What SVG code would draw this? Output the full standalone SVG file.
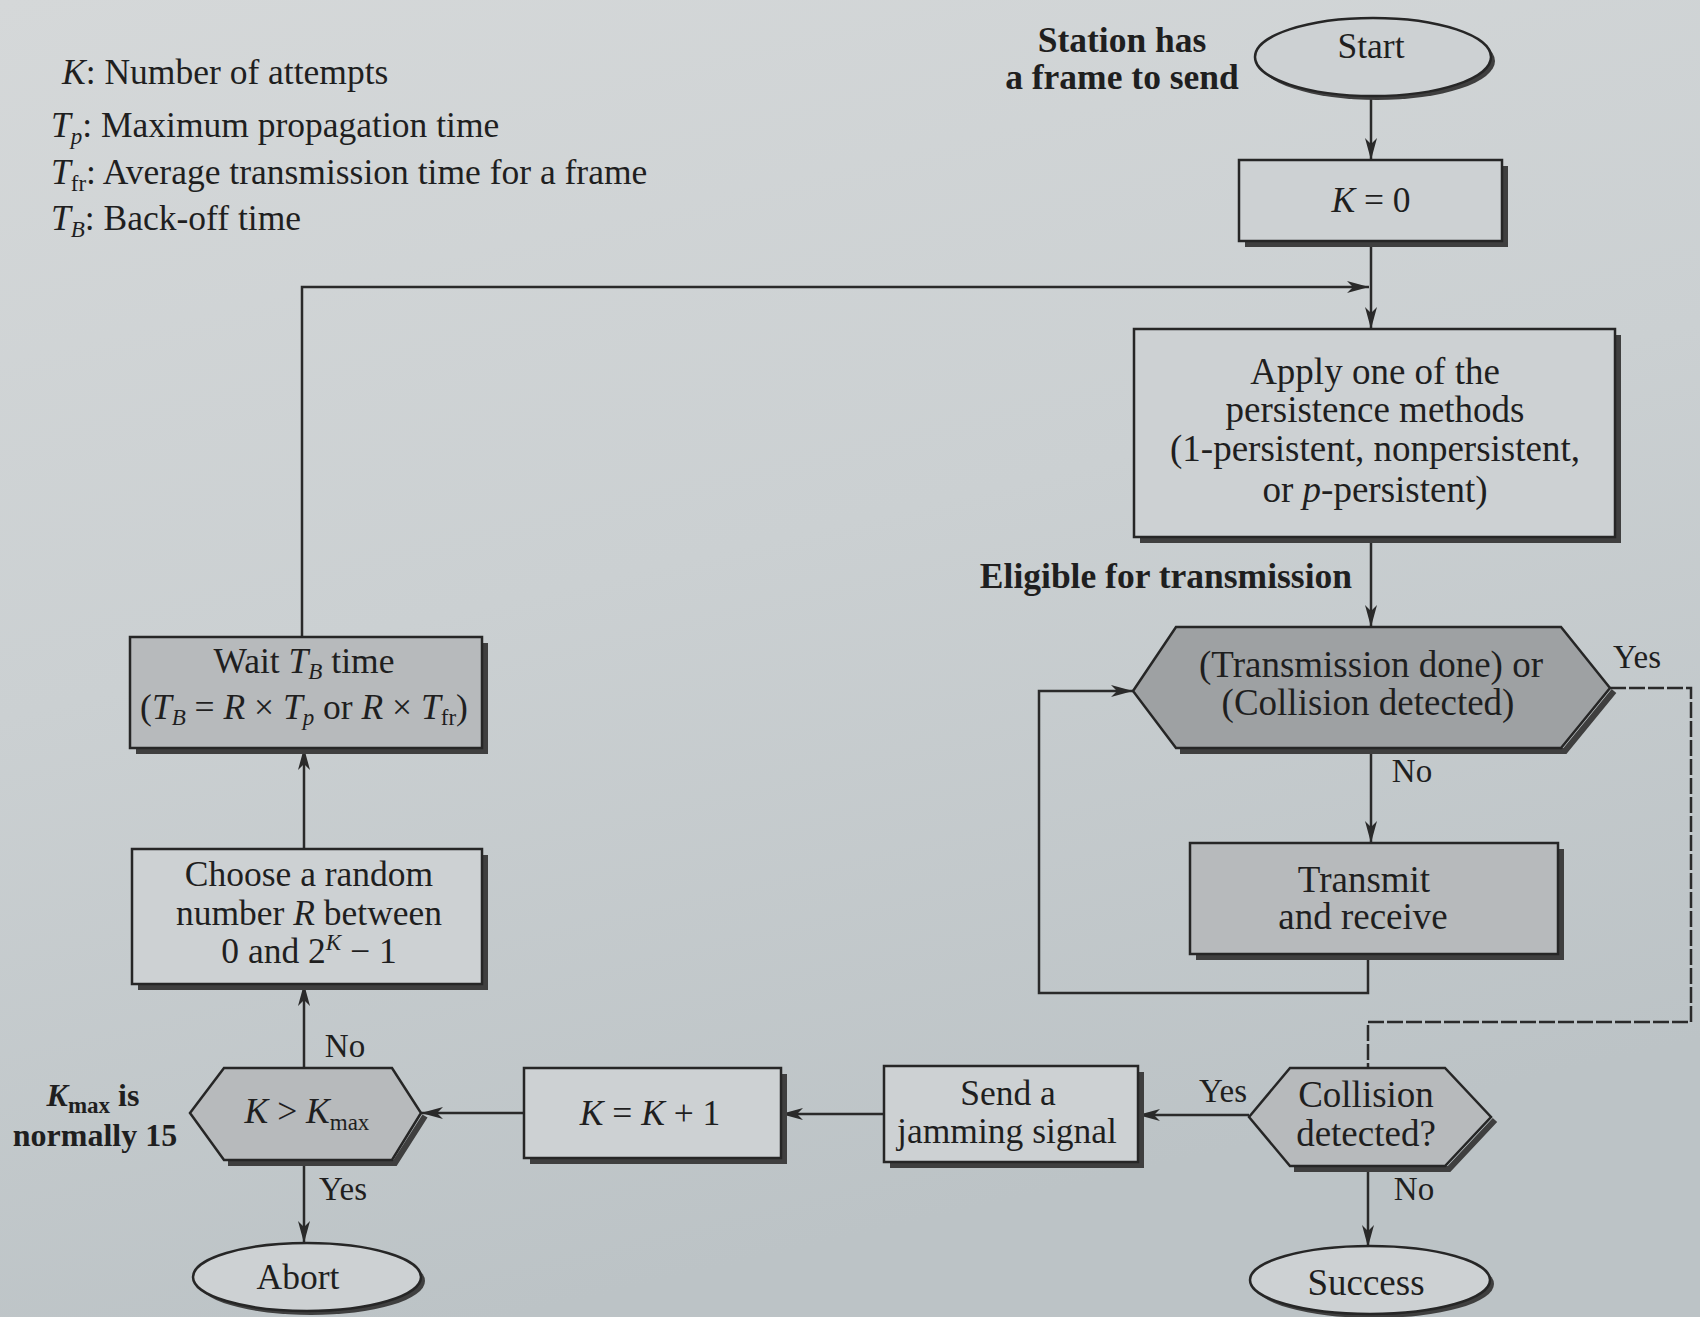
<svg xmlns="http://www.w3.org/2000/svg" width="1700" height="1317" viewBox="0 0 1700 1317">
<defs>
<linearGradient id="paper" x1="0" y1="0" x2="0.3" y2="1">
<stop offset="0" stop-color="#d5d8d9"/>
<stop offset="0.5" stop-color="#cbd0d2"/>
<stop offset="1" stop-color="#bcc3c6"/>
</linearGradient>
<marker id="arr" viewBox="0 0 22 12" refX="22" refY="6" markerWidth="22" markerHeight="12" markerUnits="userSpaceOnUse" orient="auto">
<path d="M0,0 L22,6 L0,12 L6,6 z" fill="#2a2a2a"/>
</marker>
</defs>
<style>
text{font-family:"Liberation Serif","Times New Roman",serif;font-size:35.5px;fill:#1f1f1f;text-anchor:middle}
.big{font-size:37px}
.lab{font-size:33px}
.note{font-size:32px}
.b{font-weight:bold}
.l{text-anchor:start}
.e{text-anchor:end}
.i{font-style:italic}
.sub{font-size:23px}
.box{fill:#cdd1d3;stroke:#262626;stroke-width:2.5}
.gray{fill:#b7babc;stroke:#262626;stroke-width:2.5}
.dark{fill:#9ea1a3;stroke:#262626;stroke-width:2.5}
.sh{fill:none;stroke:#3f3f3f;stroke-width:6}
.c{fill:none;stroke:#2a2a2a;stroke-width:2.5}
.dash{stroke-dasharray:16 3}
</style>
<rect width="1700" height="1317" fill="url(#paper)"/>

<g id="legend">
<text class="l" x="62" y="84"><tspan class="i">K</tspan>: Number of attempts</text>
<text class="l" x="51" y="137"><tspan class="i">T</tspan><tspan class="i sub" dy="7">p</tspan><tspan dy="-7">: Maximum propagation time</tspan></text>
<text class="l" x="51" y="184"><tspan class="i">T</tspan><tspan class="sub" dy="7">fr</tspan><tspan dy="-7">: Average transmission time for a frame</tspan></text>
<text class="l" x="51" y="230"><tspan class="i">T</tspan><tspan class="i sub" dy="7">B</tspan><tspan dy="-7">: Back-off time</tspan></text>
</g>

<g id="connectors">
<path class="c" d="M1371,98 V160" marker-end="url(#arr)"/>
<path class="c" d="M1371,241 V329" marker-end="url(#arr)"/>
<path class="c" d="M302,637 V287 H1369" marker-end="url(#arr)"/>
<path class="c" d="M1371,537 V627" marker-end="url(#arr)"/>
<path class="c" d="M1371,748 V843" marker-end="url(#arr)"/>
<path class="c" d="M1368,957 V993 H1039 V691 H1133" marker-end="url(#arr)"/>
<path class="c dash" d="M1610,688 H1691 V1022 H1368 V1068"/>
<path class="c" d="M1249,1115 H1138" marker-end="url(#arr)"/>
<path class="c" d="M884,1114 H781" marker-end="url(#arr)"/>
<path class="c" d="M524,1113 H421" marker-end="url(#arr)"/>
<path class="c" d="M304,1068 V984" marker-end="url(#arr)"/>
<path class="c" d="M304,849 V748" marker-end="url(#arr)"/>
<path class="c" d="M304,1163 V1243" marker-end="url(#arr)"/>
<path class="c" d="M1368,1169 V1247" marker-end="url(#arr)"/>
</g>

<g id="station-label">
<text class="b" x="1122" y="52">Station has</text>
<text class="b" x="1122" y="89">a frame to send</text>
</g>

<g id="start">
<ellipse cx="1377" cy="61" rx="118" ry="39" fill="#3f3f3f"/>
<ellipse class="box" cx="1373" cy="57" rx="118" ry="39"/>
<text x="1371" y="58">Start</text>
</g>

<g id="k0">
<path class="sh" d="M1505,166 V244 H1245"/>
<rect class="box" x="1239" y="160" width="263" height="81"/>
<text x="1371" y="212"><tspan class="i">K</tspan> = 0</text>
</g>

<g id="apply">
<path class="sh" d="M1618,335 V540 H1140"/>
<rect class="box" x="1134" y="329" width="481" height="208"/>
<text class="big" x="1375" y="384">Apply one of the</text>
<text class="big" x="1375" y="422">persistence methods</text>
<text class="big" x="1375" y="461">(1-persistent, nonpersistent,</text>
<text class="big" x="1375" y="502">or <tspan class="i">p</tspan>-persistent)</text>
</g>

<text id="eligible" class="b e" x="1352" y="588">Eligible for transmission</text>

<g id="check-done">
<path class="sh" d="M1614,691 L1565,751 H1180"/>
<polygon class="dark" points="1133,691 1176,627 1561,627 1610,688 1561,748 1176,748"/>
<text class="big" x="1371" y="677">(Transmission done) or</text>
<text class="big" x="1368" y="715">(Collision detected)</text>
<text class="lab" x="1637" y="668">Yes</text>
<text class="lab" x="1412" y="782">No</text>
</g>

<g id="transmit">
<path class="sh" d="M1561,849 V957 H1196"/>
<rect class="gray" x="1190" y="843" width="368" height="111"/>
<text class="big" x="1364" y="892">Transmit</text>
<text class="big" x="1363" y="929">and receive</text>
</g>

<g id="collision">
<path class="sh" d="M1495,1120 L1449,1169 H1294"/>
<polygon class="gray" points="1249,1117 1290,1068 1445,1068 1491,1117 1445,1166 1290,1166"/>
<text class="big" x="1366" y="1107">Collision</text>
<text class="big" x="1366" y="1146">detected?</text>
<text class="lab" x="1223" y="1102">Yes</text>
<text class="lab" x="1414" y="1200">No</text>
</g>

<g id="jam">
<path class="sh" d="M1141,1072 V1165 H890"/>
<rect class="box" x="884" y="1066" width="254" height="96"/>
<text x="1008" y="1105">Send a</text>
<text x="1007" y="1143">jamming signal</text>
</g>

<g id="inc">
<path class="sh" d="M784,1074 V1161 H530"/>
<rect class="box" x="524" y="1068" width="257" height="90"/>
<text x="650" y="1125"><tspan class="i">K</tspan> = <tspan class="i">K</tspan> + 1</text>
</g>

<g id="kmax">
<path class="sh" d="M425,1116 L395,1163 H228"/>
<polygon class="gray" points="190,1113 224,1068 392,1068 421,1113 392,1160 224,1160"/>
<text x="307" y="1123"><tspan class="i">K</tspan> &gt; <tspan class="i">K</tspan><tspan class="sub" dy="7">max</tspan></text>
<text class="lab" x="345" y="1057">No</text>
<text class="lab" x="343" y="1200">Yes</text>
</g>

<g id="kmax-note">
<text class="b note" x="93" y="1106"><tspan class="i">K</tspan><tspan class="sub" dy="7">max</tspan><tspan dy="-7"> is</tspan></text>
<text class="b note" x="95" y="1146">normally 15</text>
</g>

<g id="choose">
<path class="sh" d="M485,855 V987 H138"/>
<rect class="box" x="132" y="849" width="350" height="135"/>
<text x="309" y="886">Choose a random</text>
<text x="309" y="925">number <tspan class="i">R</tspan> between</text>
<text x="309" y="963">0 and 2<tspan class="i sub" dy="-13">K</tspan><tspan dy="13"> − 1</tspan></text>
</g>

<g id="wait">
<path class="sh" d="M485,643 V751 H136"/>
<rect class="gray" x="130" y="637" width="352" height="111"/>
<text x="304" y="673">Wait <tspan class="i">T</tspan><tspan class="i sub" dy="6">B</tspan><tspan dy="-6"> time</tspan></text>
<text x="304" y="719">(<tspan class="i">T</tspan><tspan class="i sub" dy="6">B</tspan><tspan dy="-6"> = </tspan><tspan class="i">R</tspan> × <tspan class="i">T</tspan><tspan class="i sub" dy="6">p</tspan><tspan dy="-6"> or </tspan><tspan class="i">R</tspan> × <tspan class="i">T</tspan><tspan class="sub" dy="6">fr</tspan><tspan dy="-6">)</tspan></text>
</g>

<g id="abort">
<ellipse cx="311" cy="1281" rx="114" ry="34" fill="#3f3f3f"/>
<ellipse class="box" cx="307" cy="1277" rx="114" ry="34"/>
<text x="298" y="1289">Abort</text>
</g>

<g id="success">
<ellipse cx="1374" cy="1284" rx="120" ry="34" fill="#3f3f3f"/>
<ellipse class="box" cx="1370" cy="1280" rx="120" ry="34"/>
<text class="big" x="1366" y="1295">Success</text>
</g>
</svg>
